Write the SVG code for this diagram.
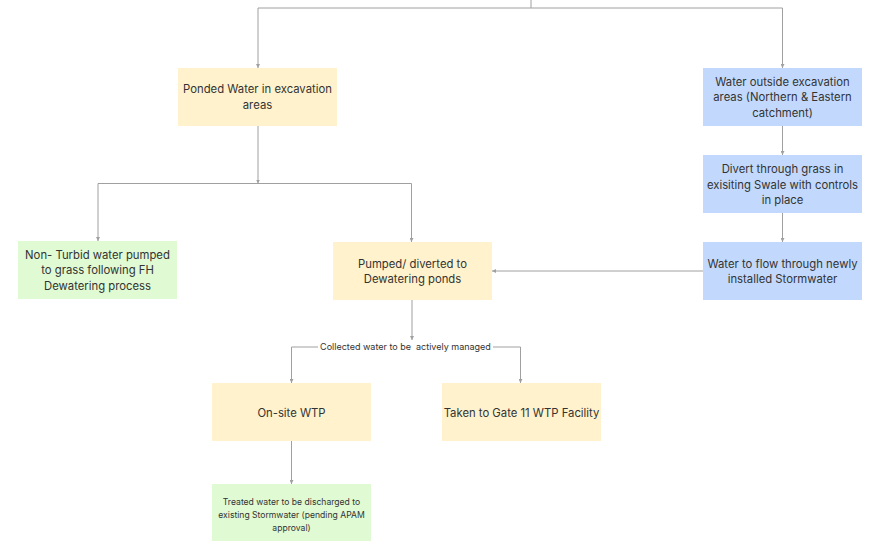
<svg xmlns="http://www.w3.org/2000/svg" width="869" height="541" viewBox="0 0 869 541">
  <style>
    .yellow { fill: #fff2cc; }
    .blue { fill: #c2d9fd; }
    .green { fill: #e0fad4; }
    text { font-family: Inter, "Noto Sans", "Liberation Sans", sans-serif; font-size: 11.3px; fill: #333333; text-anchor: middle; }
    text.small { font-size: 8.6px; }
    text.edge { font-size: 9px; white-space: pre; }
    .link { fill: none; stroke: #a0a0a0; stroke-width: 1; }
  </style>
  <defs>
    <marker id="arrow" viewBox="0 0 6 6" refX="6" refY="3" markerWidth="4" markerHeight="4" orient="auto-start-reverse" markerUnits="userSpaceOnUse">
      <path d="M0,0 L6,3 L0,6 z" fill="#a0a0a0"/>
    </marker>
  </defs>

  <rect width="869" height="541" fill="#ffffff"/>

  <!-- connectors -->
  <g id="connectors">
    <path class="link" d="M531,0 V8"/>
    <path class="link" d="M531,8 H258 V68" marker-end="url(#arrow)"/>
    <path class="link" d="M531,8 H782.5 V68" marker-end="url(#arrow)"/>
    <path class="link" d="M258,126 V183.5" marker-end="url(#arrow)"/>
    <path class="link" d="M258,183.5 H98 V241" marker-end="url(#arrow)"/>
    <path class="link" d="M258,183.5 H411.5 V242" marker-end="url(#arrow)"/>
    <path class="link" d="M782.5,126 V155" marker-end="url(#arrow)"/>
    <path class="link" d="M782.5,213 V242" marker-end="url(#arrow)"/>
    <path class="link" d="M703,271 H492" marker-end="url(#arrow)"/>
    <path class="link" d="M412,300 V340" marker-end="url(#arrow)"/>
    <path class="link" d="M318,347 H291.5 V383" marker-end="url(#arrow)"/>
    <path class="link" d="M493,347 H520.5 V383" marker-end="url(#arrow)"/>
    <text class="edge" x="405.5" y="350" xml:space="preserve">Collected water to be  actively managed</text>
    <path class="link" d="M291.5,441 V484" marker-end="url(#arrow)"/>
  </g>

  <g id="ponded">
    <rect class="yellow" x="178" y="68" width="159" height="58"/>
    <text x="257.5" y="93">Ponded Water in excavation</text>
    <text x="257.5" y="108.5">areas</text>
  </g>

  <g id="outside">
    <rect class="blue" x="703" y="68" width="159" height="58"/>
    <text x="782.5" y="85.5">Water outside excavation</text>
    <text x="782.5" y="101">areas (Northern &amp; Eastern</text>
    <text x="782.5" y="116.5">catchment)</text>
  </g>

  <g id="divert">
    <rect class="blue" x="703" y="155" width="159" height="58"/>
    <text x="782.5" y="173">Divert through grass in</text>
    <text x="782.5" y="188.5">exisiting Swale with controls</text>
    <text x="782.5" y="204">in place</text>
  </g>

  <g id="stormwater">
    <rect class="blue" x="703" y="242" width="159" height="58"/>
    <text x="782.5" y="267.5">Water to flow through newly</text>
    <text x="782.5" y="283">installed Stormwater</text>
  </g>

  <g id="nonturbid">
    <rect class="green" x="18" y="241" width="159" height="58"/>
    <text x="97.5" y="258.5">Non- Turbid water pumped</text>
    <text x="97.5" y="274">to grass following FH</text>
    <text x="97.5" y="289.5">Dewatering process</text>
  </g>

  <g id="pumped">
    <rect class="yellow" x="333" y="242" width="159" height="58"/>
    <text x="412.5" y="267.5">Pumped/ diverted to</text>
    <text x="412.5" y="283">Dewatering ponds</text>
  </g>

  <g id="onsite">
    <rect class="yellow" x="212" y="383" width="159" height="58"/>
    <text x="291.5" y="416.5">On-site WTP</text>
  </g>

  <g id="gate11">
    <rect class="yellow" x="442" y="383" width="159" height="58"/>
    <text x="521.5" y="416.5">Taken to Gate 11 WTP Facility</text>
  </g>

  <g id="treated">
    <rect class="green" x="212" y="484" width="159" height="57"/>
    <text class="small" x="291.5" y="505">Treated water to be discharged to</text>
    <text class="small" x="291.5" y="518">existing Stormwater (pending APAM</text>
    <text class="small" x="291.5" y="531">approval)</text>
  </g>
</svg>
